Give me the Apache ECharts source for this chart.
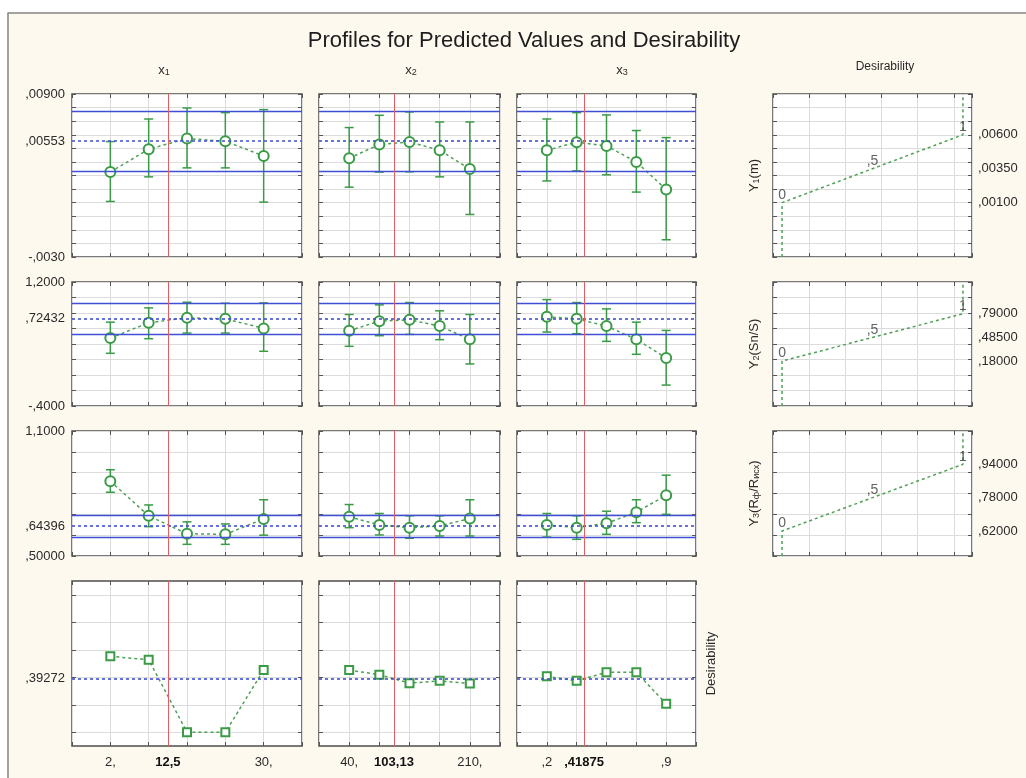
<!DOCTYPE html>
<html><head><meta charset="utf-8">
<script src="https://cdn.jsdelivr.net/npm/echarts@6/dist/echarts.min.js"></script>
<style>html,body{margin:0;padding:0;background:#fff}#c{width:1026px;height:778px}</style>
</head><body><div id="c"></div><script>
// ---------------- data ----------------
const x1Levels = [2, 9, 16, 23, 30];
const x2Levels = [40, 82.5, 125, 167.5, 210];
const x3Levels = [0.2, 0.375, 0.55, 0.725, 0.9];
const currentSettings = [12.5, 103.13, 0.41875];
const x1TickValues = [2, 12.5, 30];
const x1TickLabels = ['2,', '12,5', '30,'];
const x2TickValues = [40, 103.13, 210];
const x2TickLabels = ['40,', '103,13', '210,'];
const x3TickValues = [0.2, 0.41875, 0.9];
const x3TickLabels = [',2', ',41875', ',9'];

// Y1(m)
const y1_x1 = [0.00325, 0.00494, 0.00572, 0.00552, 0.00444];
const y1_x1_lo = [0.00109, 0.00290, 0.00356, 0.00356, 0.00104];
const y1_x1_hi = [0.00550, 0.00716, 0.00797, 0.00763, 0.00785];
const y1_x2 = [0.00427, 0.00528, 0.00547, 0.00486, 0.00347];
const y1_x2_lo = [0.00214, 0.00325, 0.00327, 0.00290, 0.00013];
const y1_x2_hi = [0.00653, 0.00743, 0.00768, 0.00694, 0.00694];
const y1_x3 = [0.00486, 0.00545, 0.00518, 0.00400, 0.00197];
const y1_x3_lo = [0.00260, 0.00334, 0.00305, 0.00178, -0.00173];
const y1_x3_hi = [0.00716, 0.00763, 0.00746, 0.00631, 0.00579];
// Y2(Sn/S)
const y2_x1 = [0.477, 0.674, 0.738, 0.725, 0.601];
const y2_x1_lo = [0.280, 0.468, 0.541, 0.541, 0.306];
const y2_x1_hi = [0.682, 0.866, 0.939, 0.926, 0.930];
const y2_x2 = [0.571, 0.695, 0.712, 0.631, 0.460];
const y2_x2_lo = [0.370, 0.507, 0.524, 0.456, 0.143];
const y2_x2_hi = [0.781, 0.905, 0.935, 0.828, 0.781];
const y2_x3 = [0.751, 0.725, 0.631, 0.460, 0.220];
const y2_x3_lo = [0.554, 0.533, 0.434, 0.267, -0.130];
const y2_x3_hi = [0.973, 0.935, 0.853, 0.682, 0.575];
// Y3(Rф/Rисх)
const y3_x1 = [0.859, 0.693, 0.607, 0.604, 0.678];
const y3_x1_lo = [0.806, 0.641, 0.556, 0.556, 0.600];
const y3_x1_hi = [0.914, 0.745, 0.664, 0.654, 0.770];
const y3_x2 = [0.688, 0.649, 0.636, 0.644, 0.680];
const y3_x2_lo = [0.636, 0.601, 0.585, 0.596, 0.596];
const y3_x2_hi = [0.747, 0.704, 0.693, 0.693, 0.770];
const y3_x3 = [0.649, 0.636, 0.657, 0.710, 0.792];
const y3_x3_lo = [0.591, 0.580, 0.604, 0.660, 0.700];
const y3_x3_hi = [0.704, 0.693, 0.715, 0.770, 0.888];
// Desirability profiles
const d_x1 = [0.552, 0.528, 0, 0, 0.452];
const d_x2 = [0.452, 0.419, 0.357, 0.374, 0.355];
const d_x3 = [0.407, 0.374, 0.436, 0.436, 0.207];

// current predictions and confidence limits
const currentPred = [0.00553, 0.72432, 0.64396];
const currentLo = [0.00331, 0.524, 0.591];
const currentHi = [0.00773, 0.924, 0.697];
const currentDesir = 0.39272;

// desirability function specs (response at desirability 0, .5, 1)
const desirLevels = [0, 0.5, 1];
const desirLevelLabels = ['0', ',5', '1'];
const y1Spec = [0.001, 0.0035, 0.006];
const y2Spec = [0.18, 0.485, 0.79];
const y3Spec = [0.62, 0.78, 0.94];

// axis ranges & tick labels
const yMin = [-0.003, -0.4, 0.5, -0.1];
const yMax = [0.009, 1.2, 1.1, 1.1];
const yStep = [0.001, 0.2, 0.1, 0.2];
const desirGridValues = [0, 0.2, 0.4, 0.6, 0.8, 1.0];
const yEndLabels = [['-,0030', ',00900'], ['-,4000', '1,2000'], [',50000', '1,1000']];
const xRange = [[-5, 37, 7], [-2.5, 252.5, 42.5], [0.025, 1.075, 0.175], [-0.05, 1.05, 0.2]];

// ---------------- assembly ----------------
const levels = [x1Levels, x2Levels, x3Levels];
const xTickValues = [x1TickValues, x2TickValues, x3TickValues];
const xTickLabels = [x1TickLabels, x2TickLabels, x3TickLabels];
const pred = [[y1_x1, y1_x2, y1_x3], [y2_x1, y2_x2, y2_x3], [y3_x1, y3_x2, y3_x3]];
const predLo = [[y1_x1_lo, y1_x2_lo, y1_x3_lo], [y2_x1_lo, y2_x2_lo, y2_x3_lo], [y3_x1_lo, y3_x2_lo, y3_x3_lo]];
const predHi = [[y1_x1_hi, y1_x2_hi, y1_x3_hi], [y2_x1_hi, y2_x2_hi, y2_x3_hi], [y3_x1_hi, y3_x2_hi, y3_x3_hi]];
const desir = [d_x1, d_x2, d_x3];
const specs = [y1Spec, y2Spec, y3Spec];

const FONT = 'Liberation Sans, Arial, sans-serif';
const TXT = '#2a2a2a';
const GREEN = '#3a9a46';
const GREEN_L = '#4f9f55';
const BLUE = '#3f4fd6';
const RED = '#e65c64';
const GRIDC = '#dcdcdc';

const colLeft = [72, 319, 517, 773], colWidth = [230, 181, 179, 199];
const rowTop = [94, 282, 431, 581], rowHeight = [163, 124, 125, 165];

const fmt5 = v => v.toFixed(5).replace(/^(-?)0\./, '$1,').replace('.', ',');
const near = (a, b) => Math.abs(a - b) < 1e-9;

const subRich = {
  n: {fontSize: 13, fontFamily: FONT, color: TXT, lineHeight: 16, verticalAlign: 'bottom'},
  s: {fontSize: 9, fontFamily: FONT, color: TXT, lineHeight: 9, verticalAlign: 'bottom'}
};
const respNames = ['{n|Y}{s|1}{n|(m)}', '{n|Y}{s|2}{n|(Sn/S)}', '{n|Y}{s|3}{n|(R}{s|ф}{n|/R}{s|исх}{n|)}'];

function errorBarItem(params, api) {
  const x = api.value(0);
  const lo = api.coord([x, api.value(1)]);
  const hi = api.coord([x, api.value(2)]);
  const st = {stroke: GREEN, lineWidth: 1.5};
  return {type: 'group', children: [
    {type: 'line', shape: {x1: lo[0], y1: lo[1], x2: hi[0], y2: hi[1]}, style: st},
    {type: 'line', shape: {x1: lo[0] - 4.5, y1: lo[1], x2: lo[0] + 4.5, y2: lo[1]}, style: st},
    {type: 'line', shape: {x1: hi[0] - 4.5, y1: hi[1], x2: hi[0] + 4.5, y2: hi[1]}, style: st}
  ]};
}

function refLine(xi, yi, items, color, width, type) {
  return {type: 'line', xAxisIndex: xi, yAxisIndex: yi, data: [], z: 1, silent: true,
    color: color, itemStyle: {color: color}, lineStyle: {color: color},
    markLine: {silent: true, symbol: ['none', 'none'], precision: 8, label: {show: false},
      animation: false, lineStyle: {color: color, width: width, type: type, opacity: 1},
      emphasis: {disabled: true}, data: items}};
}

const grid = [], xAxis = [], yAxis = [], series = [];
let g = 0;
for (let r = 0; r < 4; r++) {
  for (let c = 0; c < 4; c++) {
    if (r === 3 && c === 3) continue;
    grid.push({left: colLeft[c], top: rowTop[r], width: colWidth[c], height: rowHeight[r],
      show: true, backgroundColor: '#ffffff', borderColor: '#4d4d4d', borderWidth: 1.5,
      containLabel: false, outerBoundsMode: 'none'});
    const xr = xRange[c];
    const tick = {show: true, inside: true, length: 4, lineStyle: {color: '#555', width: 1}};
    const xBase = {type: 'value', gridIndex: g, min: xr[0], max: xr[1], interval: xr[2],
      axisLine: {show: false, onZero: false}, axisTick: tick, splitLine: {show: false}, axisLabel: {show: false}};
    let xLab = {show: false};
    if (r === 3) {
      const vals = xTickValues[c], labs = xTickLabels[c], cur = currentSettings[c];
      xLab = {show: true, customValues: vals, margin: 10, fontSize: 13, fontFamily: FONT, color: TXT,
        formatter: v => { const i = vals.findIndex(t => near(t, v)); const s = i >= 0 ? labs[i] : '';
          return near(v, cur) ? '{b|' + s + '}' : s; },
        rich: {b: {fontWeight: 'bold', fontSize: 13, fontFamily: FONT, color: '#111'}}};
    }
    xAxis.push(Object.assign({}, xBase, {position: 'bottom', axisLabel: xLab,
      splitLine: {show: true, lineStyle: {color: GRIDC, width: 1}}}));
    xAxis.push(Object.assign({}, xBase, {position: 'top'}));

    const yTick = {show: true, inside: true, length: 4, lineStyle: {color: '#555', width: 1}};
    const yBase = {type: 'value', gridIndex: g, min: yMin[r], max: yMax[r],
      axisLine: {show: false, onZero: false}, axisTick: yTick, splitLine: {show: false}, axisLabel: {show: false}};
    if (r < 3) yBase.interval = yStep[r];
    else yTick.customValues = desirGridValues;

    let yLab = {show: false};
    if (c === 0) {
      if (r < 3) {
        const ends = yEndLabels[r], lo = yMin[r], hi = yMax[r], cur = currentPred[r];
        yLab = {show: true, customValues: [lo, cur, hi], margin: 7, fontSize: 13, fontFamily: FONT, color: TXT,
          formatter: v => near(v, lo) ? ends[0] : near(v, hi) ? ends[1] : fmt5(v)};
      } else {
        yLab = {show: true, customValues: [currentDesir], margin: 7, fontSize: 13, fontFamily: FONT, color: TXT,
          formatter: v => fmt5(v)};
      }
    }
    const yLeft = Object.assign({}, yBase, {position: 'left', axisLabel: yLab,
      splitLine: {show: true, lineStyle: {color: GRIDC, width: 1}}});
    const yRight = Object.assign({}, yBase, {position: 'right'});
    if (c === 3) {
      yLeft.name = respNames[r];
      yLeft.nameLocation = 'middle';
      yLeft.nameGap = 12;
      yLeft.nameRotate = 90;
      yLeft.nameTextStyle = {rich: subRich};
      yRight.axisLabel = {show: true, customValues: specs[r], margin: 6, fontSize: 13, fontFamily: FONT,
        color: TXT, formatter: v => fmt5(v)};
    }
    if (r === 3 && c === 2) {
      yRight.name = 'Desirability';
      yRight.nameLocation = 'middle';
      yRight.nameGap = 9;
      yRight.nameRotate = 90;
      yRight.nameTextStyle = {fontSize: 13, fontFamily: FONT, color: TXT};
    }
    yAxis.push(yLeft, yRight);

    const xi = 2 * g, yi = 2 * g;
    if (c < 3) {
      if (r < 3) {
        series.push(refLine(xi, yi, [{yAxis: currentLo[r]}, {yAxis: currentHi[r]}], BLUE, 1.4, 'solid'));
        series.push(refLine(xi, yi, [{yAxis: currentPred[r]}], BLUE, 1.6, [3, 3]));
      } else {
        series.push(refLine(xi, yi, [{yAxis: currentDesir}], BLUE, 1.6, [3, 3]));
      }
      series.push(refLine(xi, yi, [{xAxis: currentSettings[c]}], RED, 1, 'solid'));
      if (r < 3) {
        const lo = predLo[r][c], hi = predHi[r][c];
        series.push({type: 'custom', xAxisIndex: xi, yAxisIndex: yi, z: 3, silent: true,
          data: levels[c].map((x, i) => [x, lo[i], hi[i]]), encode: {x: 0, y: [1, 2]},
          renderItem: errorBarItem});
        series.push({type: 'line', xAxisIndex: xi, yAxisIndex: yi, z: 4, silent: true,
          data: levels[c].map((x, i) => [x, pred[r][c][i]]),
          symbol: 'emptyCircle', symbolSize: 10,
          itemStyle: {color: GREEN, borderWidth: 1.4},
          lineStyle: {type: [3, 3], color: GREEN_L, width: 1.5}});
      } else {
        series.push({type: 'line', xAxisIndex: xi, yAxisIndex: yi, z: 4, silent: true,
          data: levels[c].map((x, i) => [x, desir[c][i]]),
          symbol: 'emptyRect', symbolSize: 8,
          itemStyle: {color: GREEN, borderWidth: 1.4},
          lineStyle: {type: [3, 3], color: GREEN_L, width: 1.5}});
      }
    } else {
      const sp = specs[r];
      const pts = [[0, yMin[r]]].concat(desirLevels.map((d, i) => [d, sp[i]]), [[1, yMax[r]]]);
      series.push({type: 'line', xAxisIndex: xi, yAxisIndex: yi, z: 3, silent: true, data: pts,
        symbol: 'none', lineStyle: {type: [3, 3], color: GREEN_L, width: 1.5}});
      series.push({type: 'scatter', xAxisIndex: xi, yAxisIndex: yi, z: 4, silent: true,
        data: desirLevels.map((d, i) => ({value: [d, sp[i]], label: {formatter: desirLevelLabels[i]}})),
        symbolSize: 1, itemStyle: {color: 'rgba(0,0,0,0)'},
        label: {show: true, position: 'top', distance: 0, fontSize: 14, fontFamily: FONT, color: '#3a3a3a'}});
    }
    g++;
  }
}

const headerText = (x, y, text) => ({type: 'text', x: x, y: y, silent: true,
  style: {text: text, rich: subRich, align: 'center', verticalAlign: 'middle', fontFamily: FONT, fontSize: 13, fill: TXT}});

const option = {
  animation: false,
  backgroundColor: '#fdf9ee',
  grid, xAxis, yAxis, series,
  graphic: [
    {type: 'rect', silent: true, shape: {x: 0, y: 0, width: 1026, height: 12.5}, style: {fill: '#ffffff'}},
    {type: 'rect', silent: true, shape: {x: 0, y: 0, width: 7.5, height: 778}, style: {fill: '#ffffff'}},
    {type: 'line', silent: true, shape: {x1: 7.5, y1: 13, x2: 1026, y2: 13}, style: {stroke: '#858585', lineWidth: 1.5}},
    {type: 'line', silent: true, shape: {x1: 8, y1: 13, x2: 8, y2: 778}, style: {stroke: '#858585', lineWidth: 1.5}},
    {type: 'text', x: 524, y: 41, silent: true, style: {text: 'Profiles for Predicted Values and Desirability',
      fontSize: 22, fontFamily: FONT, fill: '#1e1e1e', align: 'center', verticalAlign: 'middle'}},
    headerText(164, 69, '{n|x}{s|1}'),
    headerText(411, 69, '{n|x}{s|2}'),
    headerText(622, 69, '{n|x}{s|3}'),
    {type: 'text', x: 885, y: 67, silent: true, style: {text: 'Desirability', fontSize: 12, fontFamily: FONT,
      fill: TXT, align: 'center', verticalAlign: 'middle'}}
  ]
};

const chart = echarts.init(document.getElementById('c'), null, {renderer: 'canvas'});
chart.setOption(option);
</script></body></html>
